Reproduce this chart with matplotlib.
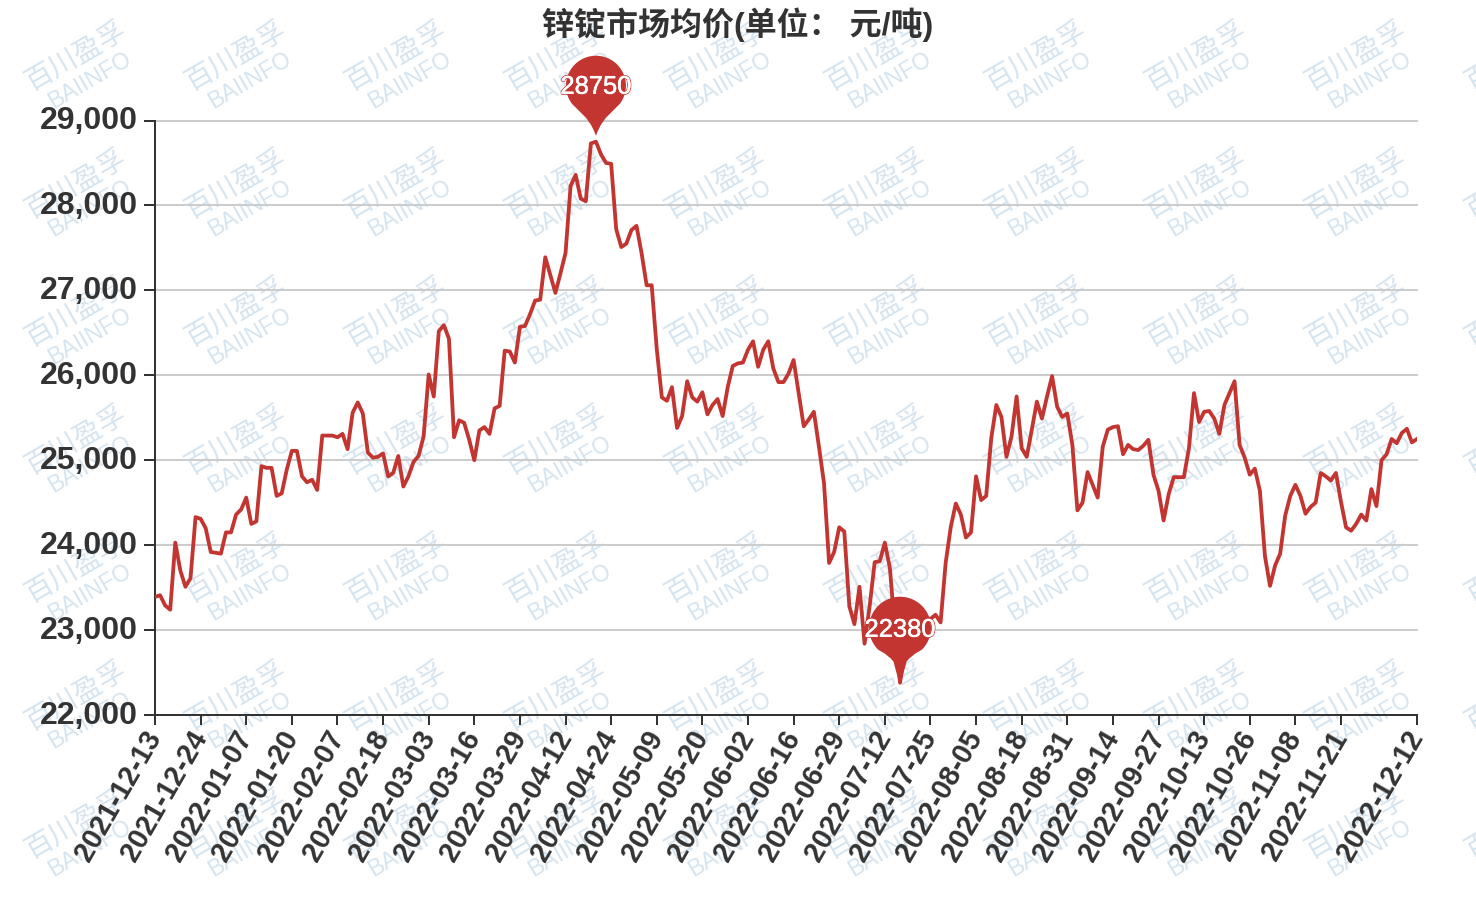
import numpy as np
import matplotlib
matplotlib.use('Agg')
import matplotlib.pyplot as plt
import matplotlib.patheffects as pe
from matplotlib.path import Path
from matplotlib.collections import PathCollection
from matplotlib.transforms import IdentityTransform, ScaledTranslation

TITLE = '锌锭市场均价(单位： 元/吨)'
tick_dates = ['2021-12-13','2021-12-24','2022-01-07','2022-01-20','2022-02-07','2022-02-18','2022-03-03',
              '2022-03-16','2022-03-29','2022-04-12','2022-04-24','2022-05-09','2022-05-20','2022-06-02',
              '2022-06-16','2022-06-29','2022-07-12','2022-07-25','2022-08-05','2022-08-18','2022-08-31',
              '2022-09-14','2022-09-27','2022-10-13','2022-10-26','2022-11-08','2022-11-21','2022-12-12']
tick_index = [0,9,18,27,36,45,54,63,72,81,90,99,108,117,126,135,144,153,162,171,180,189,198,207,216,225,234,249]
y_ticks = [22000,23000,24000,25000,26000,27000,28000,29000]
prices = [
 23390,23410,23290,23240,24030,23700,23510,23610,24330,24310,
 24200,23920,23910,23900,24150,24150,24360,24420,24560,24250,
 24280,24930,24910,24910,24580,24610,24890,25110,25110,24810,
 24740,24770,24650,25290,25290,25290,25270,25310,25130,25560,
 25680,25550,25090,25030,25040,25080,24810,24850,25050,24690,
 24810,24980,25050,25280,26010,25750,26520,26590,26430,25270,
 25470,25440,25240,25000,25350,25390,25310,25610,25640,26290,
 26280,26150,26570,26580,26720,26880,26890,27390,27180,26970,
 27200,27440,28230,28360,28080,28050,28730,28750,28600,28500,
 28490,27720,27510,27550,27710,27760,27440,27060,27060,26310,
 25740,25700,25860,25380,25520,25930,25740,25690,25800,25540,
 25650,25720,25520,25860,26110,26140,26150,26300,26400,26100,
 26300,26400,26080,25920,25920,26020,26180,25790,25400,25480,
 25570,25160,24730,23790,23920,24210,24160,23280,23070,23510,
 22840,23280,23800,23810,24030,23730,23000,22380,22800,23000,
 23100,23100,23150,23130,23180,23090,23790,24210,24490,24360,
 24090,24150,24810,24530,24580,25260,25650,25510,25040,25280,
 25750,25140,25040,25360,25690,25490,25750,25990,25630,25510,
 25550,25180,24410,24500,24860,24710,24560,25160,25360,25390,
 25400,25070,25180,25130,25120,25170,25240,24830,24640,24290,
 24600,24800,24800,24800,25140,25790,25450,25570,25580,25490,
 25310,25650,25790,25930,25180,25030,24830,24900,24640,23870,
 23520,23760,23900,24350,24580,24710,24580,24370,24450,24500,
 24850,24810,24760,24850,24510,24210,24170,24250,24360,24290,
 24660,24460,25000,25070,25250,25200,25320,25370,25210,25250,
]
max_label = '28750'
min_label = '22380'

W, H = 1476, 900
RED = '#c23531'
DARK = '#333333'
px = 72 / 100  # points per pixel at dpi 100
LATIN = 'Liberation Sans'
CJK = 'Noto Sans CJK SC'
plt.rcParams['font.family'] = [LATIN, CJK, 'DejaVu Sans']

fig = plt.figure(figsize=(W / 100, H / 100), dpi=100, facecolor='white')
ax = fig.add_axes([155 / W, 1 - 715 / H, 1262 / W, 594.5 / H])
ax.patch.set_alpha(0)

# watermark tiles
for c in range(10):
    for r in range(7):
        cx, cy = 76 + 160 * c, 56 + 128 * r
        fig.text(cx / W, 1 - cy / H, '百川盈孚', family=[CJK], fontsize=28 * px, color='#d6e4ef',
                 rotation=30, ha='center', va='center', rotation_mode='anchor', zorder=-5)
        fig.text((cx + 14) / W, 1 - (cy + 24) / H, 'BAIINFO', family=[LATIN], fontsize=23 * px, color='#d6e4ef',
                 rotation=30, ha='center', va='center', rotation_mode='anchor', zorder=-5)

x = list(range(len(prices)))
ax.set_xlim(0, len(prices) - 1)
ax.set_ylim(22000, 29000)
ax.grid(True, axis='y', color='#cccccc', lw=2 * px, zorder=1)
for g in ax.get_ygridlines():
    g.set_clip_on(False)
ax.set_axisbelow(True)
ax.plot(x, prices, color=RED, lw=3.8 * px, solid_joinstyle='round', zorder=3, clip_on=True)

for s in ('top', 'right'):
    ax.spines[s].set_visible(False)
for s in ('left', 'bottom'):
    ax.spines[s].set_color(DARK)
    ax.spines[s].set_linewidth(2 * px)

ax.set_yticks(y_ticks)
ax.set_yticklabels([f'{v:,}' for v in y_ticks], fontsize=32 * px, fontweight='bold', color=DARK)
ax.tick_params(axis='y', length=11 * px, width=2 * px, color=DARK, pad=6 * px)
lift = ScaledTranslation(0, 2.5 / 100, fig.dpi_scale_trans)
for lab in ax.get_yticklabels():
    lab.set_transform(lab.get_transform() + lift)

ax.set_xticks(tick_index)
ax.set_xticklabels(tick_dates, fontsize=28.5 * px, fontweight='bold', color=DARK, rotation=60,
                   ha='right', va='center', rotation_mode='anchor')
ax.tick_params(axis='x', length=10 * px, width=2 * px, color=DARK, pad=8 * px)

fig.text(738 / W, 1 - 25 / H, TITLE, fontsize=32 * px, fontweight='bold', color=DARK,
         ha='center', va='center', family=[LATIN, CJK])


def pin(lift_px, cy, r, side, start_deg):
    """Teardrop in display pixels: tip at (0, lift), circle centre at (0, lift + cy).
    side lists half-widths and heights between the tip and where the circle begins."""
    a = np.radians(np.linspace(start_deg, 180 - start_deg, 60))
    arc = np.column_stack([r * np.cos(a), cy + r * np.sin(a)])
    right = np.array(side, float)
    left = right[::-1] * [-1, 1]
    pts = np.vstack([[[0, 0]], right, arc, left, [[0, 0]]]) + [0, lift_px]
    codes = [Path.MOVETO] + [Path.LINETO] * (len(pts) - 2) + [Path.CLOSEPOLY]
    return Path(pts, codes)


def mark(idx, label, shape, text_y):
    v = prices[idx]
    col = PathCollection([shape], facecolors=RED, edgecolors='none',
                         offsets=[(idx, v)], offset_transform=ax.transData,
                         transform=IdentityTransform(), zorder=5, clip_on=False)
    ax.add_collection(col, autolim=False)
    ax.annotate(label, (idx, v), xytext=(0, text_y * px), textcoords='offset points',
                color='white', fontsize=25.5 * px, ha='center', va='center', zorder=6, annotation_clip=False,
                path_effects=[pe.Stroke(linewidth=2.0 * px, foreground=RED),
                              pe.Stroke(linewidth=0.5 * px, foreground='white'), pe.Normal()])


mark(prices.index(max(prices)), max_label,
     pin(6, 50, 30, [(2, 5), (5, 11), (10, 18), (17, 25)], -37), 55)
mark(prices.index(min(prices)), min_label,
     pin(0, 55, 31, [(1.2, 1), (6.5, 21), (9, 24), (15, 29)], -45), 53)

fig.savefig('out.png', dpi=100, facecolor='white')
